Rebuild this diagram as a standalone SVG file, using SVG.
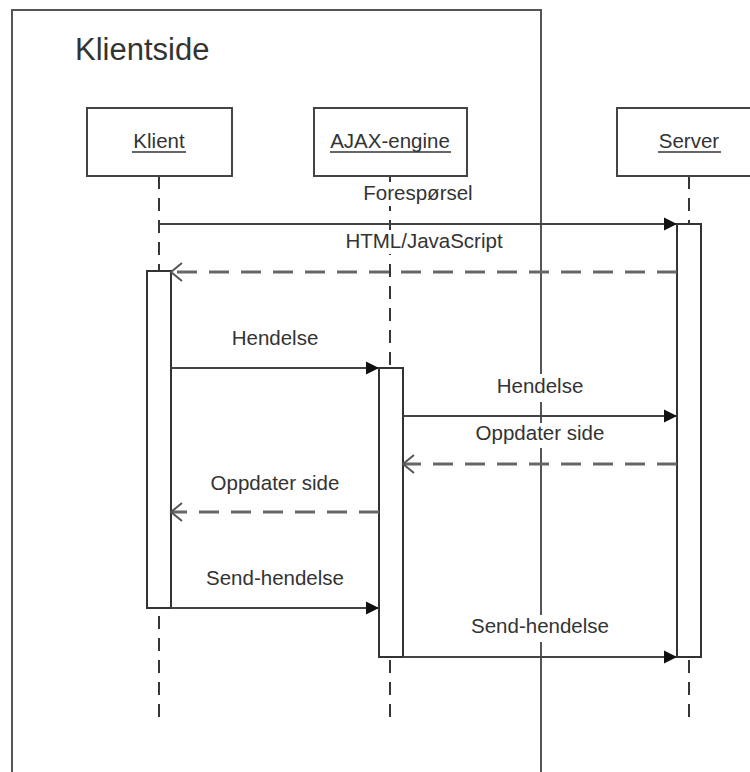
<svg xmlns="http://www.w3.org/2000/svg" width="750" height="772" viewBox="0 0 750 772">
  <style>
    text { font-family: "Liberation Sans", Arial, sans-serif; fill: #333; }
    .title { font-size: 31px; }
    .lbl { font-size: 20.5px; text-anchor: middle; }
    .frame { fill: none; stroke: #555; stroke-width: 2; }
    .box { fill: #fff; stroke: #444; stroke-width: 2; }
    .life { fill: none; stroke: #222; stroke-width: 1.8; stroke-dasharray: 13 9; }
    .act { fill: #fff; stroke: #333; stroke-width: 2; }
    .call { fill: none; stroke: #444; stroke-width: 2; marker-end: url(#filled); }
    .reply { fill: none; stroke: #666; stroke-width: 3; stroke-dasharray: 20 12; marker-end: url(#open); }
    .ul { stroke: #333; stroke-width: 1.5; }
    .bg { fill: #fff; }
  </style>
  <defs>
    <marker id="filled" viewBox="-14 -8 15 16" refX="0" refY="0" markerWidth="15" markerHeight="16" markerUnits="userSpaceOnUse" orient="auto">
      <path d="M0,0 L-13,-6.5 L-13,6.5 Z" fill="#111"/>
    </marker>
    <marker id="open" viewBox="-13 -11 15 22" refX="0" refY="0" markerWidth="15" markerHeight="22" markerUnits="userSpaceOnUse" orient="auto">
      <path d="M-11,-9 L0,0 L-11,9" fill="none" stroke="#555" stroke-width="2"/>
    </marker>
  </defs>

  <rect width="750" height="772" fill="#fff"/>

  <!-- client-side frame -->
  <g id="frame-klientside">
    <path class="frame" d="M12,772 V10 H541 V772"/>
    <text class="title" x="75" y="60">Klientside</text>
  </g>

  <!-- lifelines -->
  <g id="lifelines">
    <line class="life" x1="159" y1="176" x2="159" y2="717"/>
    <line class="life" x1="390" y1="176" x2="390" y2="717"/>
    <line class="life" x1="689" y1="176" x2="689" y2="717"/>
  </g>

  <!-- participants -->
  <g id="node-klient">
    <rect class="box" x="87" y="108" width="145" height="68"/>
    <text class="lbl" x="159" y="148">Klient</text>
    <line class="ul" x1="132" y1="152" x2="186" y2="152"/>
  </g>
  <g id="node-ajax">
    <rect class="box" x="314" y="108" width="153" height="68"/>
    <text class="lbl" x="390" y="148">AJAX-engine</text>
    <line class="ul" x1="330" y1="152" x2="451" y2="152"/>
  </g>
  <g id="node-server">
    <rect class="box" x="617" y="108" width="146" height="68"/>
    <text class="lbl" x="689" y="148">Server</text>
    <line class="ul" x1="658" y1="152" x2="721" y2="152"/>
  </g>

  <!-- activation bars -->
  <g id="activations">
    <rect id="act-server" class="act" x="677" y="224" width="24" height="433"/>
    <rect id="act-klient" class="act" x="147" y="271" width="24" height="337"/>
    <rect id="act-ajax" class="act" x="379" y="368" width="24" height="289"/>
  </g>

  <!-- messages -->
  <g id="connectors">
    <line class="call" x1="159" y1="224" x2="677" y2="224"/>
    <line class="reply" x1="677" y1="272" x2="171" y2="272"/>
    <line class="call" x1="171" y1="368" x2="379" y2="368"/>
    <line class="call" x1="403" y1="416" x2="677" y2="416"/>
    <line class="reply" x1="677" y1="464" x2="403" y2="464"/>
    <line class="reply" x1="379" y1="512" x2="171" y2="512"/>
    <line class="call" x1="171" y1="608" x2="379" y2="608"/>
    <line class="call" x1="403" y1="657" x2="677" y2="657"/>
  </g>

  <!-- message labels (white backing hides lines behind them) -->
  <g id="labels">
    <rect class="bg" x="360" y="182" width="116" height="24"/>
    <text class="lbl" x="418" y="200">Forespørsel</text>

    <rect class="bg" x="342" y="230" width="164" height="24"/>
    <text class="lbl" x="424" y="248">HTML/JavaScript</text>

    <rect class="bg" x="229" y="326" width="92" height="26"/>
    <text class="lbl" x="275" y="345">Hendelse</text>

    <rect class="bg" x="494" y="374" width="92" height="28"/>
    <text class="lbl" x="540" y="393">Hendelse</text>

    <rect class="bg" x="475" y="423" width="130" height="25"/>
    <text class="lbl" x="540" y="440">Oppdater side</text>

    <rect class="bg" x="210" y="472" width="130" height="26"/>
    <text class="lbl" x="275" y="490">Oppdater side</text>

    <rect class="bg" x="202" y="567" width="146" height="26"/>
    <text class="lbl" x="275" y="585">Send-hendelse</text>

    <rect class="bg" x="467" y="615" width="146" height="27"/>
    <text class="lbl" x="540" y="633">Send-hendelse</text>
  </g>
</svg>
